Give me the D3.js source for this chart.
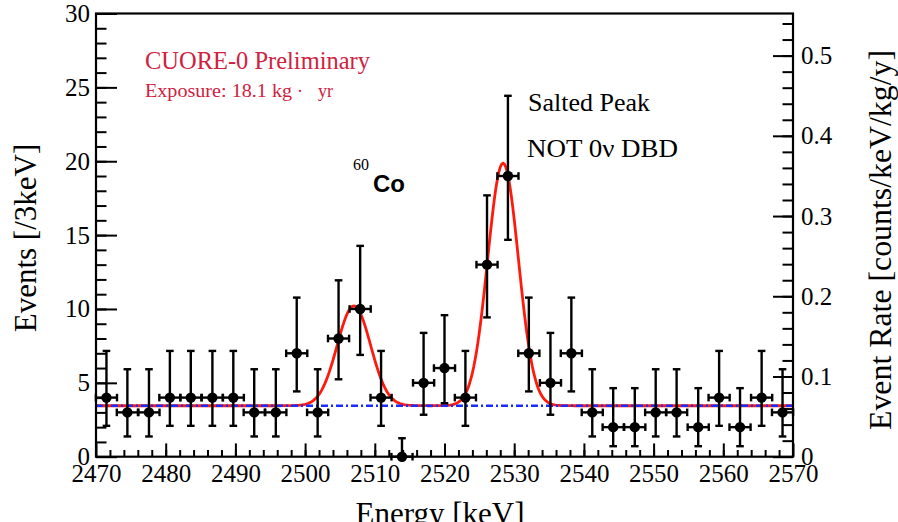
<!DOCTYPE html>
<html>
<head>
<meta charset="utf-8">
<script src="https://cdn.jsdelivr.net/npm/d3@7"></script>
<style>
  body { margin: 0; background: #fff; }
  svg { display: block; }
  text { font-family: "Liberation Serif", "Times New Roman", serif; }
</style>
</head>
<body>
<svg id="chart" width="898" height="522"></svg>
<script>
// Bin centres [keV] (100 keV window split into 33 bins)
const energy = [2471.5, 2474.5, 2477.6, 2480.6, 2483.6, 2486.7, 2489.7, 2492.7, 2495.8, 2498.8,
                2501.8, 2504.8, 2507.9, 2510.9, 2513.9, 2517.0, 2520.0, 2523.0, 2526.1, 2529.1,
                2532.1, 2535.2, 2538.2, 2541.2, 2544.2, 2547.3, 2550.3, 2553.3, 2556.4, 2559.4,
                2562.4, 2565.5, 2568.5];
// Events per bin
const counts = [4, 3, 3, 4, 4, 4, 4, 3, 3, 7,
                3, 8, 10, 4, 0, 5, 6, 4, 13, 19,
                7, 5, 7, 3, 2, 2, 3, 3, 2, 4,
                2, 4, 3];
// Lower / upper ends of the Poisson error bars
const errLow = [2.09, 1.37, 1.37, 2.09, 2.09, 2.09, 2.09, 1.37, 1.37, 4.42,
                1.37, 5.24, 6.89, 2.09, 0.00, 2.84, 3.62, 2.09, 9.43, 14.68,
                4.42, 2.84, 4.42, 1.37, 0.71, 0.71, 1.37, 1.37, 0.71, 2.09,
                0.71, 2.09, 1.37];
const errHigh = [7.16, 5.92, 5.92, 7.16, 7.16, 7.16, 7.16, 5.92, 5.92, 10.77,
                 5.92, 11.94, 14.27, 7.16, 1.25, 8.38, 9.58, 7.16, 17.69, 24.43,
                 10.77, 8.38, 10.77, 5.92, 4.64, 4.64, 5.92, 5.92, 4.64, 7.16,
                 4.64, 7.16, 5.92];
const binWidth = 100 / 33;

// Fit model: flat background plus two gaussian peaks
const fitBackground = 3.45;
const fitPeaks = [
  { mean: 2507.0, amp: 6.75, sigma: 2.4 },   // 60Co sum peak
  { mean: 2528.4, amp: 16.42, sigma: 2.2 }   // salted peak
];

// Axis ticks
const energyTicks = [2470, 2480, 2490, 2500, 2510, 2520, 2530, 2540, 2550, 2560, 2570];
const eventTicks = [0, 5, 10, 15, 20, 25, 30];
const rateTicks = [0, 0.1, 0.2, 0.3, 0.4, 0.5];
const exposure = 18.1;      // kg·yr
const nominalBin = 3;       // keV

const svg = d3.select("#chart");
const L = 96, R = 793, T = 13.5, B = 456.7;

const x = d3.scaleLinear().domain([2470, 2570]).range([L, R]);
const y = d3.scaleLinear().domain([0, 30]).range([B, T]);
const yRate = d3.scaleLinear().domain([0, 30 / (nominalBin * exposure)]).range([B, T]);

svg.append("rect").attr("width", 898).attr("height", 522).attr("fill", "#fff");

// ---- fit curve and background ----
const fitFn = e => fitBackground + d3.sum(fitPeaks, p => p.amp * Math.exp(-0.5 * ((e - p.mean) / p.sigma) ** 2));
const grid = d3.range(2470, 2570.001, 0.2);
svg.append("path")
  .datum(grid)
  .attr("fill", "none")
  .attr("stroke", "#ff1a0d")
  .attr("stroke-width", 2.8)
  .attr("d", d3.line().x(e => x(e)).y(e => y(fitFn(e))));

svg.append("line")
  .attr("x1", L).attr("x2", R)
  .attr("y1", y(fitBackground)).attr("y2", y(fitBackground))
  .attr("stroke", "#1a2cff")
  .attr("stroke-width", 2.5)
  .attr("stroke-dasharray", "7,3,2,3");

// ---- axes ----
function styleAxis(g, size) {
  g.selectAll(".domain").remove();
  g.selectAll("line").attr("stroke", "#000").attr("stroke-width", 2);
  g.selectAll("text")
    .attr("fill", "#000")
    .style("font-family", "'Liberation Serif', 'Times New Roman', serif")
    .style("font-size", size + "px");
}

// bottom
const gxMinor = svg.append("g").attr("transform", `translate(0,${B})`)
  .call(d3.axisBottom(x).tickValues(d3.range(2472, 2570, 2)).tickSize(-6.7).tickFormat(""));
styleAxis(gxMinor, 25);
const gx = svg.append("g").attr("transform", `translate(0,${B})`)
  .call(d3.axisBottom(x).tickValues(energyTicks).tickSize(-13.3).tickPadding(7.5).tickFormat(d3.format("d")));
styleAxis(gx, 25);

// left
const gyMinor = svg.append("g").attr("transform", `translate(${L},0)`)
  .call(d3.axisLeft(y).tickValues(d3.range(1, 30, 1)).tickSize(-10.5).tickFormat(""));
styleAxis(gyMinor, 25);
const gy = svg.append("g").attr("transform", `translate(${L},0)`)
  .call(d3.axisLeft(y).tickValues(eventTicks).tickSize(-21).tickPadding(6).tickFormat(d3.format("d")));
styleAxis(gy, 25);

// right (event rate)
const gyRMinor = svg.append("g").attr("transform", `translate(${R},0)`)
  .call(d3.axisRight(yRate).tickValues(d3.range(0.02, 0.55, 0.02)).tickSize(-10.5).tickFormat(""));
styleAxis(gyRMinor, 25);
const gyR = svg.append("g").attr("transform", `translate(${R},0)`)
  .call(d3.axisRight(yRate).tickValues(rateTicks).tickSize(-20).tickPadding(8)
    .tickFormat(d => d === 0 ? "0" : d3.format(".1f")(d)));
styleAxis(gyR, 25);

// frame
svg.append("rect")
  .attr("x", L).attr("y", T).attr("width", R - L).attr("height", B - T)
  .attr("fill", "none").attr("stroke", "#000").attr("stroke-width", 2.2);

// ---- data points with error bars ----
const pts = energy.map((e, i) => ({ e, n: counts[i], lo: errLow[i], hi: errHigh[i] }));
const gp = svg.append("g").attr("stroke", "#000").attr("stroke-width", 2.4);
const cap = 3.8;
pts.forEach(p => {
  const cx = x(p.e), cy = y(p.n);
  const x0 = x(p.e - binWidth / 2), x1 = x(p.e + binWidth / 2);
  const yl = y(p.lo), yh = y(p.hi);
  gp.append("line").attr("x1", cx).attr("x2", cx).attr("y1", yl).attr("y2", yh);
  gp.append("line").attr("x1", cx - cap).attr("x2", cx + cap).attr("y1", yh).attr("y2", yh);
  if (p.lo > 0) gp.append("line").attr("x1", cx - cap).attr("x2", cx + cap).attr("y1", yl).attr("y2", yl);
  gp.append("line").attr("x1", x0).attr("x2", x1).attr("y1", cy).attr("y2", cy);
  gp.append("line").attr("x1", x0).attr("x2", x0).attr("y1", cy - cap).attr("y2", cy + cap);
  gp.append("line").attr("x1", x1).attr("x2", x1).attr("y1", cy - cap).attr("y2", cy + cap);
  gp.append("circle").attr("cx", cx).attr("cy", cy).attr("r", 5.2).attr("fill", "#000").attr("stroke", "none");
});

// ---- titles ----
svg.append("text")
  .attr("x", 440).attr("y", 524)
  .attr("text-anchor", "middle")
  .style("font-size", "31px")
  .text("Energy [keV]");

svg.append("text")
  .attr("transform", "translate(36,238) rotate(-90)")
  .attr("text-anchor", "middle")
  .style("font-size", "31px")
  .text("Events [/3keV]");

svg.append("text")
  .attr("transform", "translate(891,240) rotate(-90)")
  .attr("text-anchor", "middle")
  .style("font-size", "31px")
  .attr("textLength", 380).attr("lengthAdjust", "spacingAndGlyphs")
  .text("Event Rate [counts/keV/kg/y]");

// ---- annotations ----
const red = "#d0213f";
svg.append("text")
  .attr("x", 145).attr("y", 69)
  .attr("fill", red)
  .style("font-size", "25px")
  .attr("textLength", 225).attr("lengthAdjust", "spacingAndGlyphs")
  .text("CUORE-0 Preliminary");

const expo = svg.append("text")
  .attr("x", 145).attr("y", 97)
  .attr("fill", red)
  .style("font-size", "18px");
expo.append("tspan").attr("textLength", 147).attr("lengthAdjust", "spacingAndGlyphs").text("Exposure: 18.1 kg");
expo.append("tspan").attr("x", 297).text("·");
expo.append("tspan").attr("x", 318).text("yr");

svg.append("text")
  .attr("x", 353).attr("y", 170)
  .style("font-size", "16px")
  .text("60");
svg.append("text")
  .attr("x", 373).attr("y", 192)
  .style("font-family", "'Liberation Sans', Arial, sans-serif")
  .style("font-size", "24px")
  .style("font-weight", "bold")
  .text("Co");

svg.append("text")
  .attr("x", 528).attr("y", 111)
  .style("font-size", "25px")
  .attr("textLength", 122).attr("lengthAdjust", "spacingAndGlyphs")
  .text("Salted Peak");
svg.append("text")
  .attr("x", 527).attr("y", 157)
  .style("font-size", "26px")
  .attr("textLength", 151).attr("lengthAdjust", "spacingAndGlyphs")
  .text("NOT 0ν DBD");
</script>
</body>
</html>
